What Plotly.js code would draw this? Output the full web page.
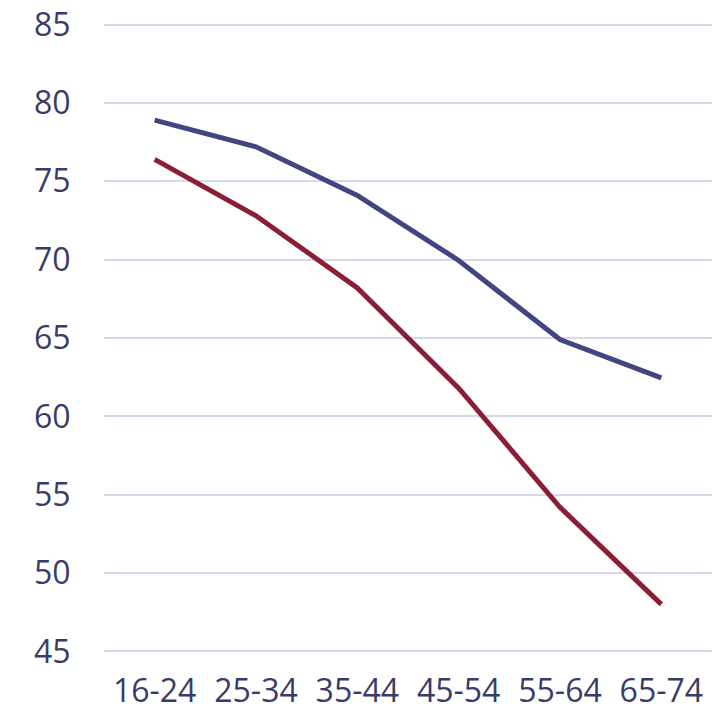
<!DOCTYPE html>
<html>
<head>
<meta charset="utf-8">
<script src="https://cdn.plot.ly/plotly-3.0.1.min.js"></script>
<style>html,body{margin:0;padding:0;background:#fff;}#chart{width:728px;height:713px;}</style>
</head>
<body>
<div id="chart"></div>
<script>
var ageGroups = ["16-24", "25-34", "35-44", "45-54", "55-64", "65-74"];
var seriesBlue = [78.9, 77.2, 74.1, 69.95, 64.9, 62.45];
var seriesRed = [76.4, 72.8, 68.2, 61.8, 54.2, 48.0];
var yTicks = [45, 50, 55, 60, 65, 70, 75, 80, 85];

var textColor = "#3a3b68";
var data = [
  {x: ageGroups, y: seriesBlue, type: "scatter", mode: "lines", line: {color: "#414680", width: 5}, hoverinfo: "skip"},
  {x: ageGroups, y: seriesRed, type: "scatter", mode: "lines", line: {color: "#8b1e35", width: 5}, hoverinfo: "skip"}
];
var layout = {
  width: 728, height: 713,
  margin: {l: 104, r: 16, t: 23, b: 60},
  paper_bgcolor: "#ffffff", plot_bgcolor: "#ffffff",
  showlegend: false,
  font: {family: "Open Sans", size: 32, color: textColor},
  xaxis: {
    type: "category", range: [-0.5, 5.5], showgrid: false, zeroline: false, showline: false,
    ticks: "outside", ticklen: 10, tickcolor: "rgba(0,0,0,0)",
    tickfont: {family: "Open Sans", size: 32, color: textColor}
  },
  yaxis: {
    range: [44.9, 85.1], tickvals: yTicks, ticktext: yTicks.map(String),
    showgrid: true, gridcolor: "#d8d8ec", gridwidth: 2, zeroline: false, showline: false,
    ticks: "outside", ticklen: 26, tickcolor: "rgba(0,0,0,0)",
    tickfont: {family: "Open Sans", size: 32, color: textColor}
  }
};
Plotly.newPlot("chart", data, layout, {staticPlot: true, displayModeBar: false});
</script>
</body>
</html>
